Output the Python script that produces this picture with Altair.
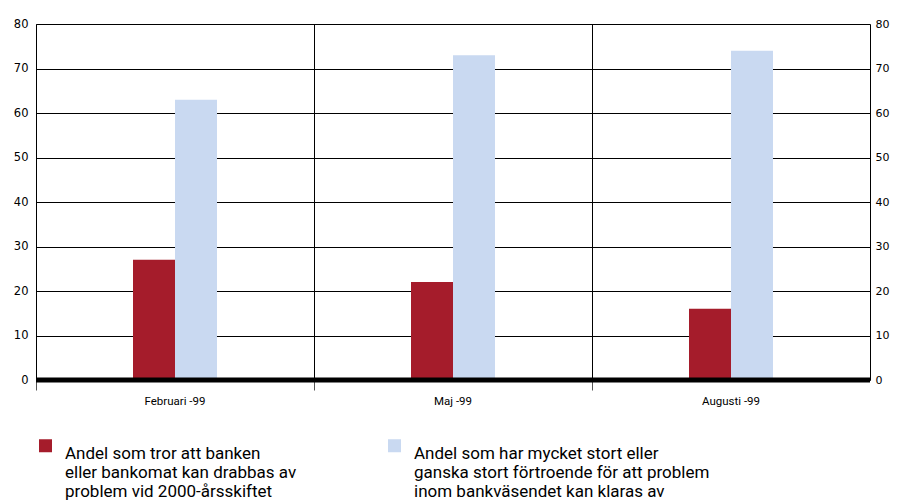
import altair as alt
import pandas as pd

months = ["Februari -99", "Maj -99", "Augusti -99"]
series = [
    "Andel som tror att banken|eller bankomat kan drabbas av|problem vid 2000-årsskiftet",
    "Andel som har mycket stort eller|ganska stort förtroende för att problem|inom bankväsendet kan klaras av",
]
red_vals = [27, 22, 16]
blue_vals = [63, 73, 74]
colors = ["#A51C2B", "#C9D9F1"]
y_ticks = [0, 10, 20, 30, 40, 50, 60, 70, 80]

rows = []
for m, r, b in zip(months, red_vals, blue_vals):
    rows.append({"month": m, "series": series[0], "value": r})
    rows.append({"month": m, "series": series[1], "value": b})
df = pd.DataFrame(rows)

NARROW = "Roboto"
NUMF = "DejaVu Sans"

# spacer slots around the two bars inside each month band
offset_domain = ["_l1", "_l2"] + series + ["_r1", "_r2"]

xscale = alt.Scale(domain=months, paddingInner=0, paddingOuter=0)
yscale = alt.Scale(domain=[0, 80], nice=False, zero=True)

bars = alt.Chart(df).mark_bar().encode(
    x=alt.X("month:N", sort=months, scale=xscale, title=None,
            axis=alt.Axis(bandPosition=0, grid=True, gridColor="#000000", gridWidth=1,
                          gridOpacity=1, ticks=True, tickSize=10, tickColor="#555555",
                          tickWidth=1, domain=False, labelAngle=0,
                          labelFont=NARROW, labelFontSize=11.5, labelColor="#000000",
                          labelPadding=5)),
    xOffset=alt.XOffset("series:N",
                        scale=alt.Scale(domain=offset_domain, paddingInner=0, paddingOuter=0.31)),
    y=alt.Y("value:Q", scale=yscale, title=None,
            axis=alt.Axis(values=y_ticks, grid=True, gridColor="#000000", gridWidth=1,
                          gridOpacity=1, ticks=False, domain=True, domainColor="#000000",
                          labelFont=NUMF, labelFontSize=11.5, labelColor="#000000",
                          labelPadding=8)),
    color=alt.Color("series:N", sort=series, scale=alt.Scale(domain=series, range=colors),
                    title=None,
                    legend=alt.Legend(orient="none", legendX=1, legendY=413, columns=2,
                                      direction="horizontal", symbolType="square",
                                      symbolSize=169, symbolStrokeWidth=0,
                                      symbolOpacity=1, labelFont=NARROW, labelFontSize=17,
                                      labelColor="#000000",
                                      labelOffset=11, labelLimit=400, columnPadding=89,
                                      labelBaseline="top",
                                      labelExpr="split(datum.label, '|')")),
)

base = alt.Chart(pd.DataFrame({"v": [0]})).mark_rule(color="#000000", strokeWidth=5).encode(
    y=alt.Y("v:Q", scale=yscale, title=None,
            axis=alt.Axis(orient="right", values=y_ticks, grid=False, ticks=False,
                          domain=True, domainColor="#000000",
                          labelFont=NUMF, labelFontSize=11, labelColor="#000000",
                          labelPadding=5)),
)

chart = alt.layer(bars, base).resolve_axis(y="independent").properties(
    width=834, height=356,
    autosize=alt.AutoSizeParams(type="none"),
    padding={"left": 28, "top": 16, "right": 20, "bottom": 123},
).configure_view(stroke=None).configure(background="#ffffff")

chart.save("out.html", embed_options={"renderer": "svg", "actions": False})
